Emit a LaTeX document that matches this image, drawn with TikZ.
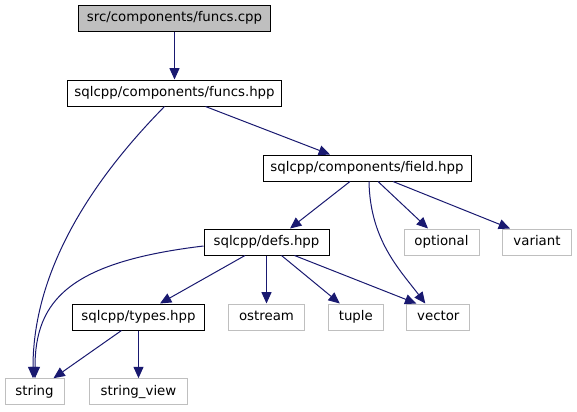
\documentclass[tikz,border=0pt]{standalone}
\usepackage{fontspec}
\setmainfont{DejaVu Sans}
\usetikzlibrary{arrows.meta,calc}
\definecolor{edgeblue}{HTML}{191970}
\definecolor{curfill}{HTML}{BFBFBF}
\definecolor{extgray}{HTML}{BFBFBF}
\begin{document}
\begin{tikzpicture}[x=0.75pt,y=-0.75pt,
  box/.style={draw=black,line width=0.75pt,minimum height=19.5pt,inner sep=0pt,
    text height=7.4pt,text depth=2.2pt,font=\fontsize{10pt}{12pt}\selectfont},
  ext/.style={box,draw=extgray},
  cur/.style={box,fill=curfill},
  dep/.style={draw=edgeblue,line width=0.75pt,-{Triangle[length=8.5pt,width=7.5pt]}}]
\useasboundingbox (0,0) rectangle (577,411);
\node[cur,minimum width=144pt] (fcpp) at (174.5,18.5) {src/components/funcs.cpp};
\node[box,minimum width=160.5pt] (fh) at (174.5,93) {sqlcpp/components/funcs.hpp};
\node[box,minimum width=156pt] (fld) at (367,168) {sqlcpp/components/field.hpp};
\node[box,minimum width=93.75pt] (defs) at (266.5,242) {sqlcpp/defs.hpp};
\node[ext,minimum width=56.25pt] (opt) at (441.5,242) {optional};
\node[ext,minimum width=51.75pt] (var) at (537,242) {variant};
\node[box,minimum width=99pt] (typ) at (138.5,317) {sqlcpp/types.hpp};
\node[ext,minimum width=57pt] (ost) at (266.5,317) {ostream};
\node[ext,minimum width=41.25pt] (tup) at (355.8,317) {tuple};
\node[ext,minimum width=47.25pt] (vec) at (438.3,317) {vector};
\node[ext,minimum width=44.25pt] (str) at (34.5,391.7) {string};
\node[ext,minimum width=73.5pt] (sv) at (138.5,391.7) {string\_view};

\draw[dep] (fcpp.south) -- (fh.north);
\draw[dep] ($(fh.south)+(-10,0)$) .. controls (112,160) and (33,255) .. ($(str.north)+(-1.5,0)$);
\draw[dep] ($(fh.south)+(31,0)$) -- ($(fld.north)+(-37,0)$);
\draw[dep] ($(fld.south)+(-17,0)$) -- ($(defs.north)+(23.5,0)$);
\draw[dep] ($(fld.south)+(2,0)$) .. controls (370,240) and (400,270) .. ($(vec.north)+(-13,0)$);
\draw[dep] ($(fld.south)+(11,0)$) -- ($(opt.north)+(-13.5,0)$);
\draw[dep] ($(fld.south)+(26,0)$) -- ($(var.north)+(-27,0)$);
\draw[dep] ($(defs.west)+(0,4)$) .. controls (70,262) and (35,300) .. ($(str.north)+(0.5,0)$);
\draw[dep] ($(defs.south)+(-21.5,0)$) -- ($(typ.north)+(21.5,0)$);
\draw[dep] (defs.south) -- (ost.north);
\draw[dep] ($(defs.south)+(15,0)$) -- ($(tup.north)+(-16,0)$);
\draw[dep] ($(defs.south)+(28,0)$) -- ($(vec.north)+(-22,0)$);
\draw[dep] ($(typ.south)+(-17,0)$) -- ($(str.north)+(19,0)$);
\draw[dep] (typ.south) -- (sv.north);
\end{tikzpicture}
\end{document}
